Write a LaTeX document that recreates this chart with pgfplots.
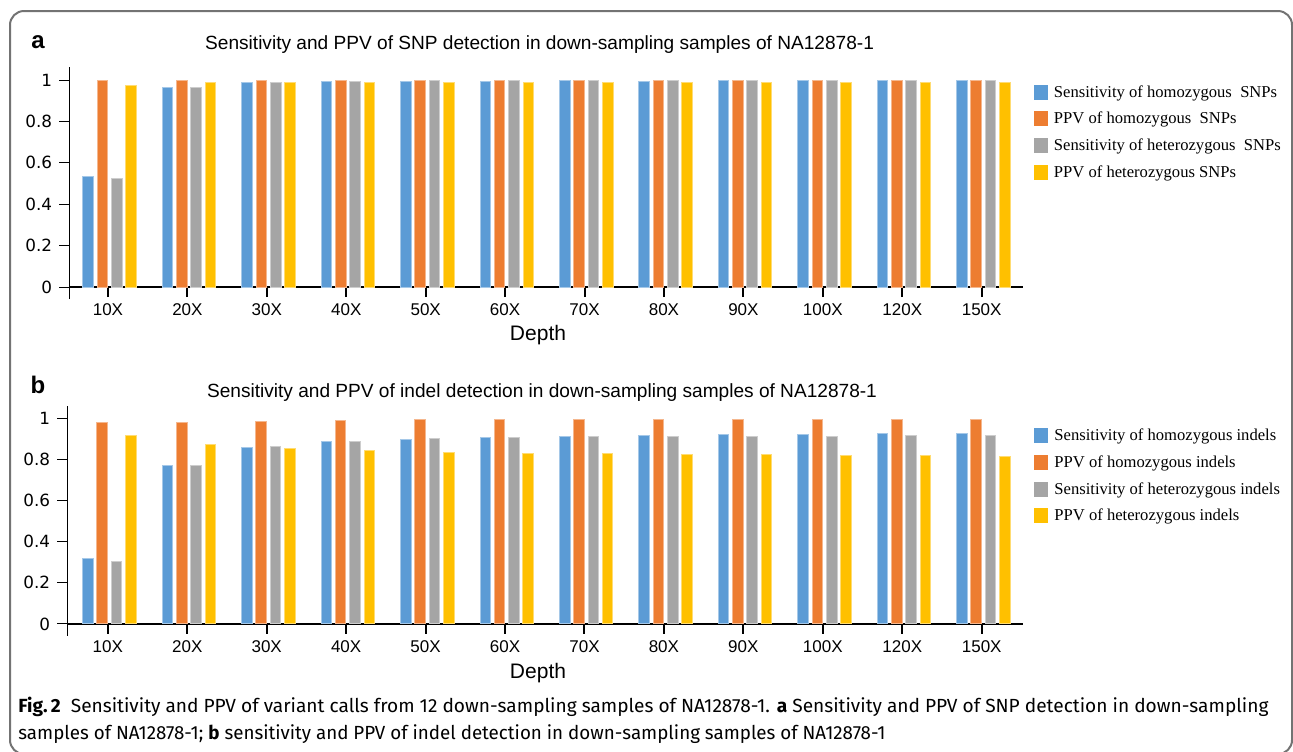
\documentclass[border=0pt]{standalone}
\usepackage{fontspec}
\setmainfont{Liberation Sans}
\newfontfamily\seriffont{Liberation Serif}
\newfontfamily\capfont{Fira Sans}
\newfontfamily\tickfont{DejaVu Sans}
\usepackage{graphicx}
\usepackage{pgfplots}
\pgfplotsset{compat=1.18}
\definecolor{cblue}{HTML}{5B9BD5}
\definecolor{corange}{HTML}{ED7D31}
\definecolor{cgray}{HTML}{A5A5A5}
\definecolor{cyellow}{HTML}{FFC000}
\pgfplotsset{
  mybars/.style={
    scale only axis,
    ybar,
    bar width=5.3pt,
    axis x line=middle, axis y line=left,
    axis line style={-},
    x axis line style={line width=1pt},
    hide obscured x ticks=false, hide obscured y ticks=false,
    xtick={0,...,11},
    xticklabels={10X,20X,30X,40X,50X,60X,70X,80X,90X,100X,120X,150X},
    ytick={0,0.2,0.4,0.6,0.8,1},
    yticklabels={0,0.2,0.4,0.6,0.8,1},
    tick align=outside,
    major tick length=5pt,
    x tick style={line width=1pt, black},
    y tick style={line width=0.5pt, black},
    xticklabel style={font=\fontsize{8.5}{10}\selectfont},
    yticklabel style={font=\tickfont\fontsize{8.4}{10}\selectfont},
    legend cell align=left,
    legend style={draw=none, fill=none, inner sep=0pt, outer sep=0pt,
      font=\seriffont\fontsize{8.3}{10}\selectfont,
      row sep=4.35pt,
      nodes={inner sep=0pt, text height=7pt, text depth=2pt},
      /tikz/every odd column/.append style={column sep=3pt}},
  },
  lg/.style={legend image code/.code={\fill[#1] (0pt,-3.5pt) rectangle (6.5pt,3.5pt);}},
  sb/.style={fill=cblue, draw=cblue!55!white, line width=0.5pt, bar shift=-9.85pt, lg={cblue}},
  so/.style={fill=corange, draw=corange!55!white, line width=0.5pt, bar shift=-2.75pt, lg={corange}},
  sg/.style={fill=cgray, draw=cgray!55!white, line width=0.5pt, bar shift=4.45pt, lg={cgray}},
  sy/.style={fill=cyellow, draw=cyellow!55!white, line width=0.5pt, bar shift=11.6pt, lg={cyellow}},
}
\begin{document}
\begin{tikzpicture}
\useasboundingbox (0,0) rectangle (646.5pt,-375.5pt);
\draw[line width=1pt, color=black!55, rounded corners=7pt] (5pt,-5.5pt) rectangle (646pt,-377pt);

% ---------- panel a ----------
\node[font=\bfseries\fontsize{12}{12}\selectfont] at (19pt,-21pt) {a};
\node[font=\fontsize{9.55}{11}\selectfont] at (269.8pt,-22.5pt) {Sensitivity and PPV of SNP detection in down-sampling samples of NA12878-1};
\begin{axis}[mybars,
  at={(34.6pt,-149.5pt)}, anchor=south west,
  width=476.65pt, height=116pt,
  xmin=-0.488, xmax=11.514, ymin=-0.058, ymax=1.063,
  legend style={at={(1.012,0.931)}, anchor=north west}]
\addplot[sb] coordinates {(0,0.536) (1,0.965) (2,0.987) (3,0.993) (4,0.994) (5,0.995) (6,0.996) (7,0.995) (8,0.996) (9,0.996) (10,0.996) (11,0.996)};
\addplot[so] coordinates {(0,0.999) (1,0.999) (2,0.999) (3,0.999) (4,0.999) (5,0.999) (6,0.999) (7,0.999) (8,0.999) (9,0.999) (10,0.999) (11,0.999)};
\addplot[sg] coordinates {(0,0.525) (1,0.965) (2,0.990) (3,0.995) (4,0.996) (5,0.996) (6,0.997) (7,0.996) (8,0.997) (9,0.997) (10,0.997) (11,0.997)};
\addplot[sy] coordinates {(0,0.976) (1,0.989) (2,0.990) (3,0.989) (4,0.989) (5,0.989) (6,0.988) (7,0.987) (8,0.987) (9,0.987) (10,0.987) (11,0.987)};
\legend{Sensitivity of homozygous\ \ SNPs, PPV of homozygous\ \ SNPs, Sensitivity of heterozygous\ \ SNPs, PPV of heterozygous SNPs}
\end{axis}
\node[font=\fontsize{10.5}{12}\selectfont] at (269pt,-167.5pt) {Depth};

% ---------- panel b ----------
\node[font=\bfseries\fontsize{12}{12}\selectfont] at (19pt,-192.5pt) {b};
\node[font=\fontsize{9.55}{11}\selectfont] at (271pt,-196.3pt) {Sensitivity and PPV of indel detection in down-sampling samples of NA12878-1};
\begin{axis}[mybars,
  at={(33.6pt,-317.85pt)}, anchor=south west,
  width=477.9pt, height=114.9pt,
  xmin=-0.511, xmax=11.52, ymin=-0.057, ymax=1.060,
  legend style={at={(1.012,0.909)}, anchor=north west}]
\addplot[sb] coordinates {(0,0.318) (1,0.770) (2,0.857) (3,0.885) (4,0.898) (5,0.906) (6,0.912) (7,0.916) (8,0.919) (9,0.921) (10,0.924) (11,0.927)};
\addplot[so] coordinates {(0,0.981) (1,0.977) (2,0.984) (3,0.989) (4,0.992) (5,0.994) (6,0.994) (7,0.995) (8,0.995) (9,0.995) (10,0.995) (11,0.995)};
\addplot[sg] coordinates {(0,0.303) (1,0.771) (2,0.864) (3,0.889) (4,0.901) (5,0.906) (6,0.909) (7,0.911) (8,0.912) (9,0.912) (10,0.914) (11,0.916)};
\addplot[sy] coordinates {(0,0.917) (1,0.874) (2,0.854) (3,0.841) (4,0.835) (5,0.831) (6,0.828) (7,0.825) (8,0.822) (9,0.820) (10,0.817) (11,0.814)};
\legend{Sensitivity of homozygous indels, PPV of homozygous indels, Sensitivity of heterozygous indels, PPV of heterozygous indels}
\end{axis}
\node[font=\fontsize{10.5}{12}\selectfont] at (269pt,-336.5pt) {Depth};

% ---------- caption ----------
\node[anchor=base west, inner sep=0pt, font=\capfont\fontsize{9.5}{11}\selectfont] at (9pt,-356pt)
  {\resizebox{625pt}{\height}{\textbf{Fig.\,2}\ \ Sensitivity and PPV of variant calls from 12 down-sampling samples of NA12878-1. \textbf{a} Sensitivity and PPV of SNP detection in down-sampling}};
\node[anchor=base west, inner sep=0pt, font=\capfont\fontsize{9.5}{11}\selectfont] at (9pt,-369.5pt)
  {\resizebox{433.5pt}{\height}{samples of NA12878-1; \textbf{b} sensitivity and PPV of indel detection in down-sampling samples of NA12878-1}};
\end{tikzpicture}
\end{document}
